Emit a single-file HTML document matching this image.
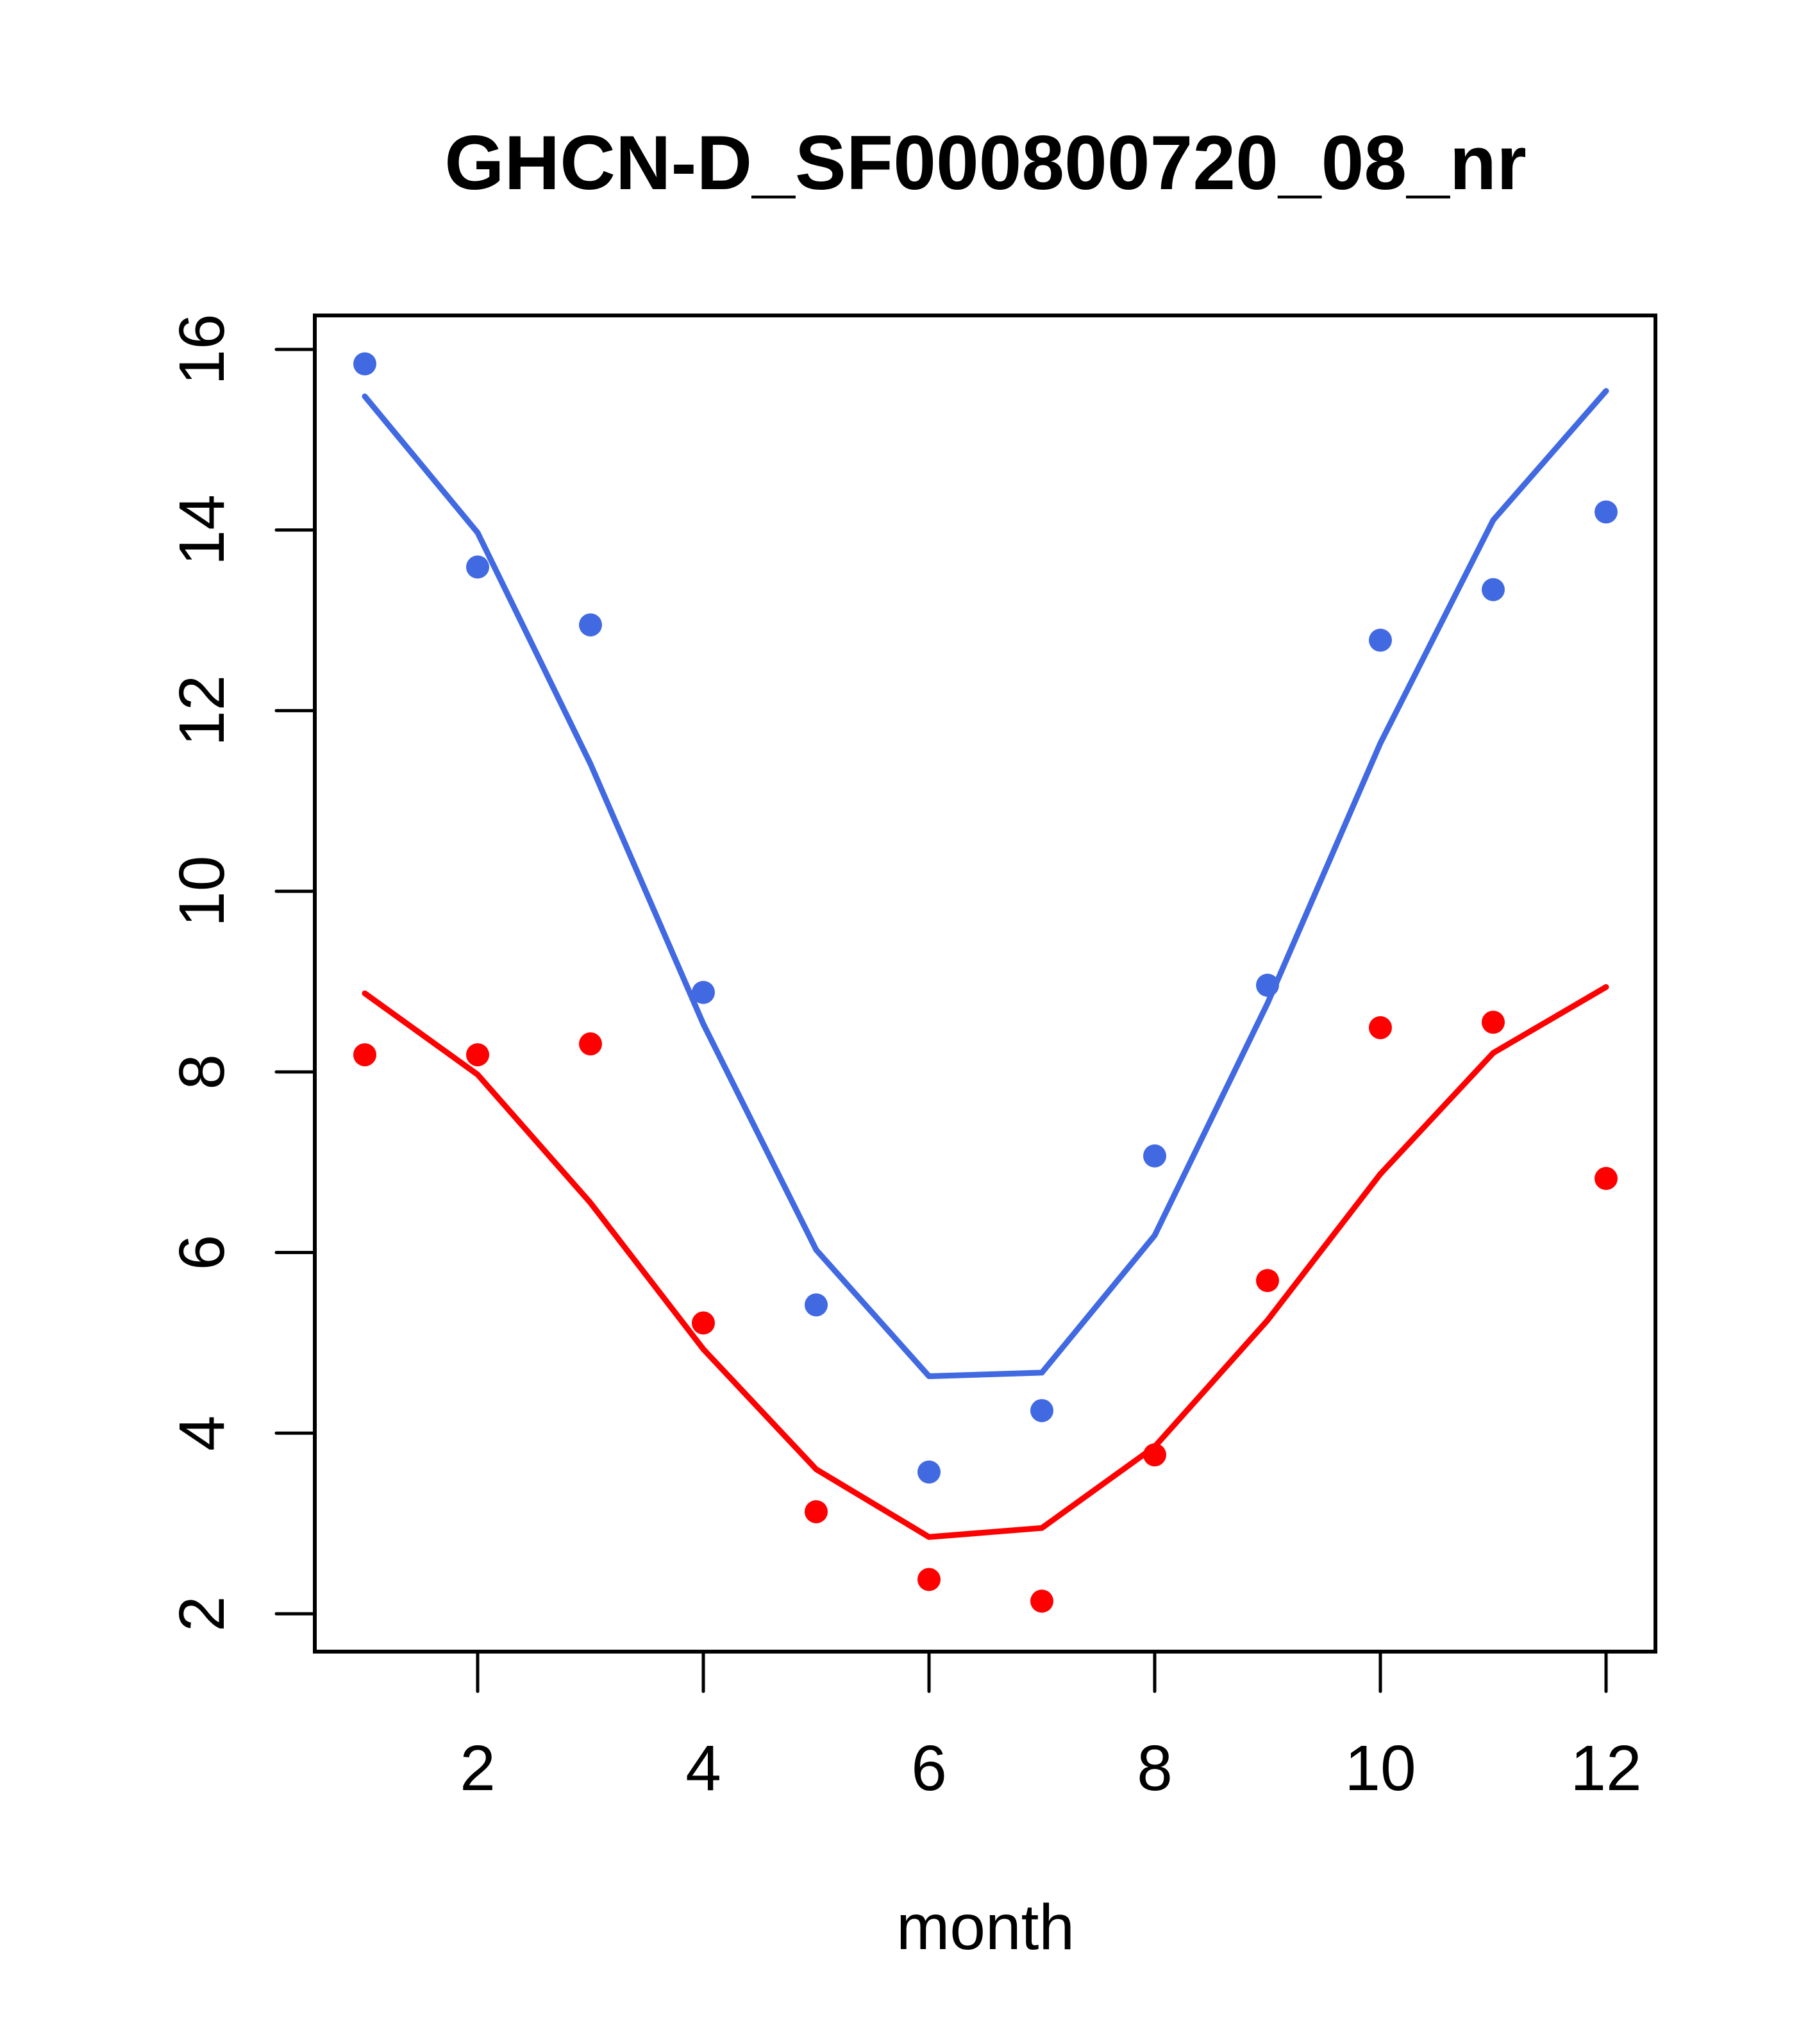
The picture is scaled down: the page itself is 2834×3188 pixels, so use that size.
<!DOCTYPE html>
<html><head><meta charset="utf-8"><style>html,body{margin:0;padding:0;background:#fff}svg{display:block}</style></head>
<body>
<svg id="chart" width="2834" height="3188" viewBox="0 0 2834 3188" xmlns="http://www.w3.org/2000/svg" font-family="'Liberation Sans', sans-serif">
<rect width="2834" height="3188" fill="#fff"/>
<text x="1537" y="295" text-anchor="middle" font-size="120" font-weight="bold">GHCN-D_SF000800720_08_nr</text>
<text x="1537" y="3040" text-anchor="middle" font-size="100">month</text>
<g id="plot"></g>
</svg>
<script>
const months = [1,2,3,4,5,6,7,8,9,10,11,12];
const bluePoints = [15.84,13.59,12.95,8.88,5.42,3.57,4.25,7.07,8.96,12.78,13.34,14.2];
const blueLine = [15.48,13.97,11.41,8.53,6.03,4.63,4.67,6.19,8.76,11.64,14.11,15.54];
const redPoints = [8.19,8.19,8.31,5.22,3.13,2.38,2.14,3.76,5.69,8.49,8.55,6.82];
const redLine = [8.87,7.97,6.55,4.93,3.6,2.85,2.95,3.85,5.25,6.87,8.21,8.94];
const xTicks = [2,4,6,8,10,12];
const yTicks = [2,4,6,8,10,12,14,16];

const NS = "http://www.w3.org/2000/svg";
const g = document.getElementById('plot');
const sx = v => 569 + (v - 1) * 176;
const sy = v => 2517 - (v - 2) * 140.86;
function mk(tag, attrs, parent) {
  const e = document.createElementNS(NS, tag);
  for (const k in attrs) e.setAttribute(k, attrs[k]);
  (parent || g).appendChild(e);
  return e;
}
let e = mk('rect', {x:491, y:492, width:2091, height:2084, fill:'none', stroke:'#000', 'stroke-width':6});


xTicks.forEach(t => {
  const l = mk('line', {x1:sx(t), x2:sx(t), y1:2576, y2:2638, stroke:'#000', 'stroke-width':5, 'stroke-linecap':'round'});
  
  
  const tx = mk('text', {x:sx(t), y:2792, 'text-anchor':'middle', 'font-size':100});
  tx.textContent = t;
  
  
});
yTicks.forEach(t => {
  const y = sy(t);
  const l = mk('line', {x1:431, x2:491, y1:y, y2:y, stroke:'#000', 'stroke-width':5, 'stroke-linecap':'round'});
  
  
  const tx = mk('text', {x:0, y:0, 'text-anchor':'middle', 'font-size':100, transform:`translate(349,${y}) rotate(-90)`});
  tx.textContent = t;
  
  
});
function series(line, pts, color, name) {
  const p = mk('polyline', {points: months.map((m,i)=>sx(m)+','+sy(line[i])).join(' '), fill:'none', stroke:color, 'stroke-width':9, 'stroke-linecap':'round', 'stroke-linejoin':'round'});
  
  
  months.forEach((m,i) => {
    const c = mk('circle', {cx:sx(m), cy:sy(pts[i]), r:18, fill:color});
    
    
  });
}
series(blueLine, bluePoints, '#4169e1', 'blue-series');
series(redLine, redPoints, '#ff0000', 'red-series');
</script>
</body></html>
